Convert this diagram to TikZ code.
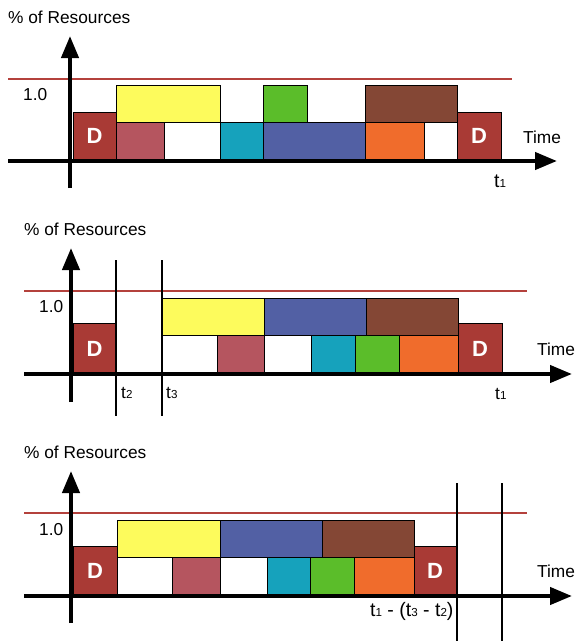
\documentclass[tikz,border=0pt]{standalone}
\usepackage{fontspec}
\setmainfont{Liberation Sans}
\usetikzlibrary{arrows.meta}

\definecolor{dred}{RGB}{169,58,53}
\definecolor{rose}{RGB}{181,85,95}
\definecolor{lemon}{RGB}{253,251,92}
\definecolor{teal}{RGB}{22,162,188}
\definecolor{leaf}{RGB}{91,189,42}
\definecolor{navy}{RGB}{82,96,164}
\definecolor{umber}{RGB}{132,71,53}
\definecolor{tang}{RGB}{240,108,44}
\definecolor{limit}{RGB}{180,65,60}

% small digit used as an index after "t"
\newcommand\ix[1]{{\fontsize{11.6}{12}\selectfont #1}}
% one block of the schedule: colour, x1, y1, x2, y2
\newcommand\blk[5]{\draw[blk,fill=#1] (#2,#3) rectangle (#4,#5);}

\begin{document}
\begin{tikzpicture}[x=1pt,y=-1pt,
  blk/.style={draw=black,line width=0.9pt},
  axis/.style={line width=4.2pt,-{Triangle[length=22pt,width=17pt]}},
  cap1/.style={line width=2.4pt,draw=limit},
  mark1/.style={line width=1.4pt,draw=black},
  lbl/.style={font=\fontsize{17.3}{19}\selectfont,inner sep=0pt,anchor=base west},
  tlbl/.style={font=\fontsize{19.5}{21}\selectfont,inner sep=0pt,anchor=base west},
  dlbl/.style={font=\fontsize{22}{24}\selectfont\bfseries,text=white,inner sep=0pt}]
\useasboundingbox (0,0) rectangle (574,641);

% ---------------- first schedule ----------------
\draw[cap1] (8,79) -- (512,79);
\blk{dred}{73}{112}{116}{160}
\blk{lemon}{116}{85}{220}{122}
\blk{leaf}{263}{85}{307}{122}
\blk{umber}{365}{85}{457}{122}
\blk{rose}{116}{122}{164}{160}
\blk{white}{164}{122}{220}{160}
\blk{teal}{220}{122}{263}{160}
\blk{navy}{263}{122}{365}{160}
\blk{tang}{365}{122}{424}{160}
\blk{white}{424}{122}{457}{160}
\blk{dred}{457}{112}{501}{160}
\node[dlbl] (d1a) at (94.5,136) {D};
\node[dlbl] (d1b) at (479,136) {D};
\draw[axis] (70,188) -- (70,36);
\draw[axis] (8,161) -- (557,161);
\node[lbl] (res1) at (8,23) {\% of Resources};
\node[lbl] (one1) at (23,100) {1.0};
\node[lbl] (time1) at (523,143) {Time};
\node[tlbl] (t1a) at (494,187) {t\ix{1}};

% ---------------- second schedule ----------------
\draw[cap1] (24,291) -- (527,291);
\blk{dred}{73}{323}{116}{374}
\blk{lemon}{162}{298}{264}{335}
\blk{navy}{264}{298}{366}{335}
\blk{umber}{366}{298}{458}{335}
\blk{white}{162}{335}{217}{374}
\blk{rose}{217}{335}{264}{374}
\blk{white}{264}{335}{311}{374}
\blk{teal}{311}{335}{355}{374}
\blk{leaf}{355}{335}{399}{374}
\blk{tang}{399}{335}{458}{374}
\blk{dred}{458}{323}{502}{374}
\node[dlbl] (d2a) at (94.5,348.5) {D};
\node[dlbl] (d2b) at (480,348.5) {D};
\draw[mark1] (116,260) -- (116,416);
\draw[mark1] (162,260) -- (162,416);
\draw[axis] (71,402) -- (71,248);
\draw[axis] (24,374) -- (572,374);
\node[lbl] (res2) at (24,235) {\% of Resources};
\node[lbl] (one2) at (39,312) {1.0};
\node[lbl] (time2) at (537,355) {Time};
\node[lbl] (t2) at (121,398) {t\ix{2}};
\node[lbl] (t3) at (166,398) {t\ix{3}};
\node[lbl] (t1b) at (495,399) {t\ix{1}};

% ---------------- third schedule ----------------
\draw[cap1] (24,513) -- (527,513);
\blk{dred}{73}{546}{117}{596}
\blk{lemon}{117}{520}{220}{557}
\blk{navy}{220}{520}{322}{557}
\blk{umber}{322}{520}{414}{557}
\blk{white}{117}{557}{172}{596}
\blk{rose}{172}{557}{220}{596}
\blk{white}{220}{557}{267}{596}
\blk{teal}{267}{557}{310}{596}
\blk{leaf}{310}{557}{354}{596}
\blk{tang}{354}{557}{414}{596}
\blk{dred}{414}{546}{456}{596}
\node[dlbl] (d3a) at (95,571) {D};
\node[dlbl] (d3b) at (435,571) {D};
\draw[mark1] (457,483) -- (457,641);
\draw[mark1] (502,483) -- (502,641);
\draw[axis] (71,623) -- (71,471);
\draw[axis] (24,596) -- (572,596);
\node[lbl] (res3) at (24,458) {\% of Resources};
\node[lbl] (one3) at (39,535) {1.0};
\node[lbl] (time3) at (537,577) {Time};
\node[tlbl] (shift) at (370,616) {t\ix{1} - (t\ix{3} - t\ix{2})};
\end{tikzpicture}
\end{document}
